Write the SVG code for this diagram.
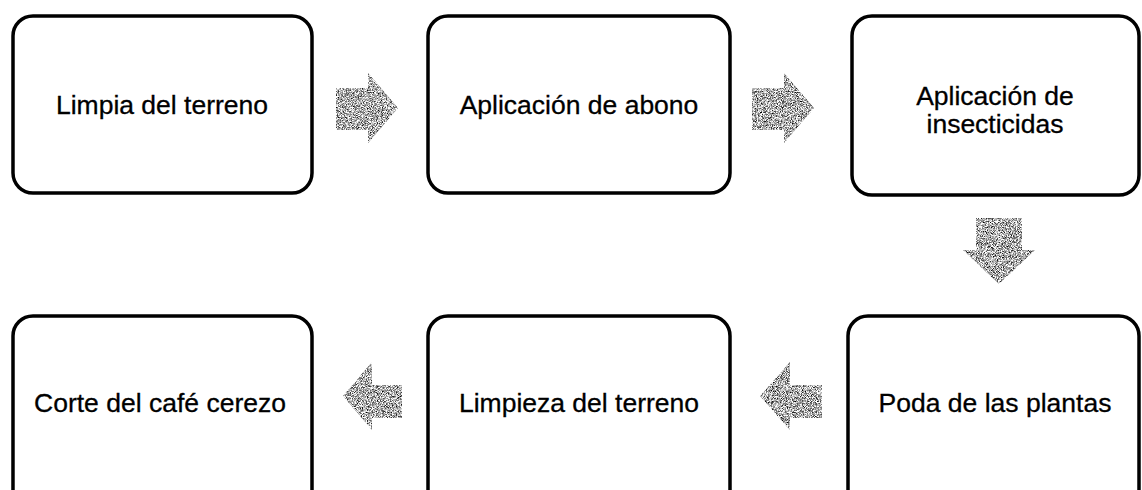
<svg xmlns="http://www.w3.org/2000/svg" width="1142" height="490" viewBox="0 0 1142 490">
<defs>
<style>
.box{fill:#fff;stroke:#000;stroke-width:3.5}
.lbl{font-family:"Liberation Sans",Arial,sans-serif;font-size:26.5px;fill:#000;text-anchor:middle;stroke:#000;stroke-width:0.3}
.arr{fill:#9a9a9a;filter:url(#grain)}
</style>
<filter id="grain" x="0" y="0" width="1" height="1" color-interpolation-filters="sRGB">
<feTurbulence type="fractalNoise" baseFrequency="1.2" numOctaves="2" seed="5" result="n"/>
<feColorMatrix in="n" type="matrix" values="2.2 0 0 0 -0.42  2.2 0 0 0 -0.42  2.2 0 0 0 -0.42  0 0 0 0 1" result="g"/>
<feComposite in="g" in2="SourceGraphic" operator="in"/>
</filter>
</defs>
<rect width="1142" height="490" fill="#fff"/>
<g id="connectors">
<path class="arr" d="M336,88 H368 V73 L398,108 L368,143 V130 H336 Z"/>
<path class="arr" d="M752,88 H784 V73 L814,108 L784,143 V130 H752 Z"/>
<path class="arr" d="M976,218 H1022 V250 H1035 L999,284 L963,250 H976 Z"/>
<path class="arr" d="M822,385 H790 V362 L760,396 L790,430 V418 H822 Z"/>
<path class="arr" d="M402,385 H372 V362 L343,396 L372,430 V418 H402 Z"/>
</g>
<g id="n1"><rect class="box" x="13" y="16" width="299" height="177" rx="20"/><text class="lbl" x="162" y="114">Limpia del terreno</text></g>
<g id="n2"><rect class="box" x="428" y="16" width="302" height="177" rx="20"/><text class="lbl" x="579" y="114">Aplicación de abono</text></g>
<g id="n3"><rect class="box" x="852" y="16" width="287" height="179" rx="20"/><text class="lbl" x="995" y="105">Aplicación de</text><text class="lbl" x="995" y="133">insecticidas</text></g>
<g id="n4"><rect class="box" x="848" y="316" width="291" height="200" rx="20"/><text class="lbl" x="995" y="412">Poda de las plantas</text></g>
<g id="n5"><rect class="box" x="428" y="316" width="302" height="200" rx="20"/><text class="lbl" x="579" y="412">Limpieza del terreno</text></g>
<g id="n6"><rect class="box" x="13" y="316" width="299" height="200" rx="20"/><text class="lbl" x="160" y="412">Corte del café cerezo</text></g>
</svg>
